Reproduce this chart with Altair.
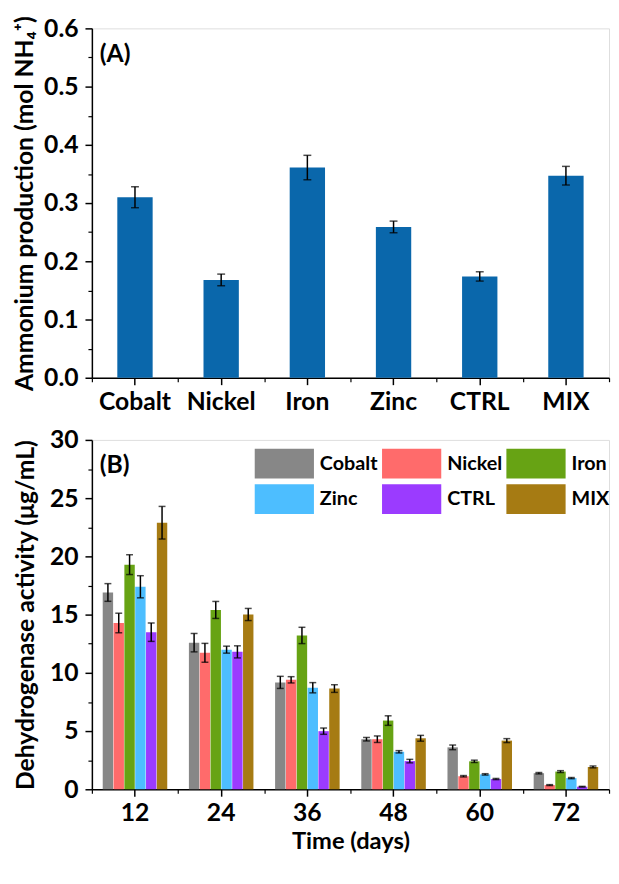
import altair as alt
import pandas as pd

FONT = "Lato"

# ---------------- Panel A data ----------------
metals = ["Cobalt", "Nickel", "Iron", "Zinc", "CTRL", "MIX"]
ammonium = [0.310, 0.168, 0.361, 0.259, 0.174, 0.347]
ammonium_err = [0.018, 0.010, 0.021, 0.010, 0.008, 0.016]

# ---------------- Panel B data ----------------
days = ["12", "24", "36", "48", "60", "72"]
dh_cobalt = [16.90, 12.59, 9.18, 4.30, 3.60, 1.38]
dh_nickel = [14.28, 11.72, 9.40, 4.30, 1.12, 0.36]
dh_iron = [19.29, 15.40, 13.21, 5.90, 2.40, 1.52]
dh_zinc = [17.39, 11.99, 8.72, 3.22, 1.28, 0.96]
dh_ctrl = [13.49, 11.80, 4.99, 2.42, 0.88, 0.22]
dh_mix = [22.89, 15.01, 8.65, 4.38, 4.18, 1.92]

err_cobalt = [0.76, 0.79, 0.52, 0.15, 0.20, 0.06]
err_nickel = [0.84, 0.81, 0.27, 0.28, 0.06, 0.04]
err_iron = [0.85, 0.73, 0.70, 0.41, 0.10, 0.08]
err_zinc = [0.95, 0.30, 0.44, 0.10, 0.06, 0.05]
err_ctrl = [0.79, 0.52, 0.27, 0.15, 0.05, 0.03]
err_mix = [1.40, 0.52, 0.33, 0.25, 0.17, 0.08]

colors = ["#878787", "#FF6B6B", "#67A314", "#4DBEFF", "#9B3BFF", "#A67B13"]
bar_blue = "#0A67AB"

# ---------------- tables ----------------
dfA = pd.DataFrame({"metal": metals, "value": ammonium, "err": ammonium_err})
dfA["lo"] = dfA["value"] - dfA["err"]
dfA["hi"] = dfA["value"] + dfA["err"]

series = [dh_cobalt, dh_nickel, dh_iron, dh_zinc, dh_ctrl, dh_mix]
errs = [err_cobalt, err_nickel, err_iron, err_zinc, err_ctrl, err_mix]
rows = []
for m, vals, es in zip(metals, series, errs):
    for d, v, e in zip(days, vals, es):
        rows.append({"day": d, "metal": m, "value": v, "lo": v - e, "hi": v + e})
dfB = pd.DataFrame(rows)

W, H = 524, 354

major_axis = dict(labelFont=FONT, labelFontSize=25, labelFontWeight="bold", labelColor="black",
                  titleFont=FONT, titleFontWeight="bold", titleColor="black",
                  domainColor="black", domainWidth=1.5, tickColor="black", tickWidth=1.5,
                  tickSize=7, grid=False)
minor_axis = dict(labels=False, domain=False, tickColor="black", tickWidth=1.2,
                  tickSize=4, grid=False, title=None)

# ---------------- Panel A ----------------
xA_scale = alt.Scale(paddingInner=0, paddingOuter=0)
yA_scale = alt.Scale(domain=[0, 0.6], nice=False, zero=True)

barsA = alt.Chart(dfA).mark_bar(width=alt.RelativeBandSize(0.41), color=bar_blue).encode(
    x=alt.X("metal:N", sort=metals, scale=xA_scale,
            axis=alt.Axis(orient="bottom", title=None, labelAngle=0, labelPadding=5, **major_axis)),
    y=alt.Y("value:Q", scale=yA_scale,
            axis=alt.Axis(orient="left", values=[0, 0.1, 0.2, 0.3, 0.4, 0.5, 0.6], format=".1f",
                          title="Ammonium production  (mol NH\u2084\u207A)", titleFontSize=25,
                          labelPadding=7, titlePadding=6, **major_axis)),
)
errA = alt.Chart(dfA).mark_rule(color="black", strokeWidth=1.5).encode(
    x=alt.X("metal:N", sort=metals,
            axis=alt.Axis(orient="bottom", tickBand="extent", **minor_axis)),
    y=alt.Y("lo:Q", axis=alt.Axis(orient="left", values=[0.05, 0.15, 0.25, 0.35, 0.45, 0.55], **minor_axis)),
    y2="hi:Q",
)
capsA = alt.Chart(dfA).transform_fold(["lo", "hi"], as_=["k", "cap"]).mark_tick(
    color="black", thickness=1.5, size=8).encode(
    x=alt.X("metal:N", sort=metals, axis=None),
    y=alt.Y("cap:Q", axis=None),
)
labelA = alt.Chart(pd.DataFrame({"t": ["(A)"]})).mark_text(
    align="left", baseline="alphabetic", font=FONT, fontSize=25, fontWeight="bold", color="black"
).encode(x=alt.value(8), y=alt.value(34), text="t:N")

panelA = alt.layer(barsA, errA, capsA, labelA).resolve_axis(x="independent", y="independent").properties(
    width=W, height=H)

# ---------------- Panel B ----------------
xB_scale = alt.Scale(paddingInner=0, paddingOuter=0)
yB_scale = alt.Scale(domain=[0, 30], nice=False)
off_scale = alt.Scale(paddingInner=0.04, paddingOuter=1)

barsB = alt.Chart(dfB).mark_bar().encode(
    x=alt.X("day:N", sort=days, scale=xB_scale,
            axis=alt.Axis(orient="bottom", title="Time (days)", titleFontSize=24, labelAngle=0,
                          labelPadding=5, titlePadding=4, **major_axis)),
    xOffset=alt.XOffset("metal:N", sort=metals, scale=off_scale),
    y=alt.Y("value:Q", scale=yB_scale,
            axis=alt.Axis(orient="left", values=[0, 5, 10, 15, 20, 25, 30],
                          title="Dehydrogenase activity (\u03BCg/mL)", titleFontSize=25,
                          labelPadding=7, titlePadding=11, **major_axis)),
    color=alt.Color("metal:N", sort=metals, scale=alt.Scale(domain=metals, range=colors),
                    legend=alt.Legend(title=None, orient="none", legendX=165, legendY=9, columns=3,
                                      direction="horizontal",
                                      symbolType="M-1,-1H3V1H-1Z", symbolSize=900,
                                      symbolStrokeWidth=0, symbolOpacity=1,
                                      labelFont=FONT, labelFontSize=20, labelFontWeight="bold",
                                      labelColor="black", labelOffset=36, columnPadding=4,
                                      rowPadding=6, padding=0)),
)
errB = alt.Chart(dfB).mark_rule(color="black", strokeWidth=1.5).encode(
    x=alt.X("day:N", sort=days, axis=alt.Axis(orient="bottom", tickBand="extent", **minor_axis)),
    xOffset=alt.XOffset("metal:N", sort=metals),
    y=alt.Y("lo:Q", axis=alt.Axis(orient="left", values=[2.5, 7.5, 12.5, 17.5, 22.5, 27.5], **minor_axis)),
    y2="hi:Q",
)
capsB = alt.Chart(dfB).transform_fold(["lo", "hi"], as_=["k", "cap"]).mark_tick(
    color="black", thickness=1.5, size=7).encode(
    x=alt.X("day:N", sort=days, axis=None),
    xOffset=alt.XOffset("metal:N", sort=metals),
    y=alt.Y("cap:Q", axis=None),
)
labelB = alt.Chart(pd.DataFrame({"t": ["(B)"]})).mark_text(
    align="left", baseline="alphabetic", font=FONT, fontSize=25, fontWeight="bold", color="black"
).encode(x=alt.value(8), y=alt.value(34), text="t:N")

panelB = alt.layer(barsB, errB, capsB, labelB).resolve_axis(x="independent", y="independent").properties(
    width=W, height=H)

chart = alt.vconcat(panelA, panelB, spacing=12).resolve_legend(color="independent").properties(
    padding={"left": 4, "top": -2, "right": 0, "bottom": 0}
).configure_view(stroke="black", strokeWidth=1.5).configure(background="white")

chart.save("out.html", embed_options={"renderer": "svg", "actions": False})
